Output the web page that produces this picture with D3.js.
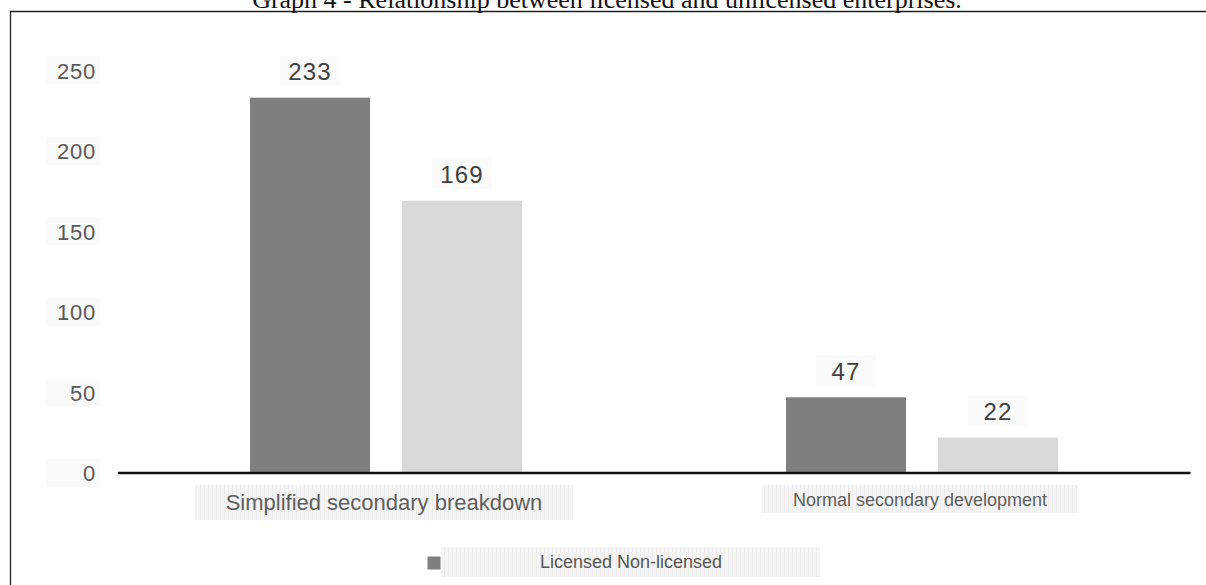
<!DOCTYPE html>
<html>
<head>
<meta charset="utf-8">
<script src="https://cdn.jsdelivr.net/npm/d3@7/dist/d3.min.js"></script>
<style>
  html, body { margin: 0; padding: 0; background: #fff; }
  svg { display: block; }
</style>
</head>
<body>
<svg id="chart" width="1206" height="585"></svg>
<script>
// Enterprise counts by development type
const categories = ["Simplified secondary breakdown", "Normal secondary development"];
const seriesNames = ["Licensed", "Non-licensed"];
const licensed = [233, 47];
const nonLicensed = [169, 22];
const yTicks = [0, 50, 100, 150, 200, 250];
const titleText = "Graph 4 - Relationship between licensed and unlicensed enterprises.";
const legendText = "Licensed Non-licensed";

const colors = { "Licensed": "#7f7f7f", "Non-licensed": "#d9d9d9" };
const sans = "'Liberation Sans', Arial, Helvetica, sans-serif";

const svg = d3.select("#chart");

// striped label background
const defs = svg.append("defs");
const pat = defs.append("pattern")
  .attr("id", "stripes").attr("patternUnits", "userSpaceOnUse")
  .attr("width", 4).attr("height", 4);
pat.append("rect").attr("width", 4).attr("height", 4).attr("fill", "#f5f5f5");
pat.append("rect").attr("width", 1).attr("height", 4).attr("fill", "#ededed");

// Title (Times) and outer frame
svg.append("text")
  .attr("x", 607).attr("y", 8)
  .attr("text-anchor", "middle")
  .attr("font-family", "'Liberation Serif', 'Times New Roman', serif")
  .attr("font-size", 26).attr("fill", "#111")
  .text(titleText);

svg.append("line").attr("x1", 10).attr("x2", 1206).attr("y1", 11.5).attr("y2", 11.5)
  .attr("stroke", "#222").attr("stroke-width", 1.3);
svg.append("line").attr("x1", 10.5).attr("x2", 10.5).attr("y1", 11).attr("y2", 585)
  .attr("stroke", "#222").attr("stroke-width", 1.3);

// Scales
const x0 = d3.scaleBand().domain(categories).range([118, 1190]).padding(0);
const x1 = d3.scaleBand().domain(seriesNames)
  .range([x0.bandwidth() / 2 - 136, x0.bandwidth() / 2 + 136])
  .paddingInner(32 / 152).paddingOuter(0);
const y = d3.scaleLinear().domain([0, 250]).range([473, 70.3]);

// Y tick labels with faint backing
const tickG = svg.append("g");
yTicks.forEach(t => {
  tickG.append("rect")
    .attr("x", 46).attr("y", y(t) - 14).attr("width", 54).attr("height", 28)
    .attr("fill", "#fafafa");
});
const yAxis = d3.axisLeft(y).tickValues(yTicks).tickSize(0).tickPadding(0);
const yAxisG = svg.append("g").attr("transform", "translate(96,0)").call(yAxis);
yAxisG.select(".domain").remove();
yAxisG.selectAll("text")
  .attr("font-family", sans).attr("font-size", 22)
  .attr("letter-spacing", 0.8)
  .attr("fill", "#595959").attr("dy", "0.36em");

// Bars
const rows = categories.map((c, i) => ({
  cat: c,
  vals: [{ s: "Licensed", v: licensed[i] }, { s: "Non-licensed", v: nonLicensed[i] }]
}));

const groups = svg.selectAll("g.grp").data(rows).join("g")
  .attr("class", "grp")
  .attr("transform", d => `translate(${x0(d.cat)},0)`);

groups.selectAll("rect.bar").data(d => d.vals).join("rect")
  .attr("class", "bar")
  .attr("x", d => x1(d.s)).attr("width", x1.bandwidth())
  .attr("y", d => y(d.v)).attr("height", d => y(0) - y(d.v))
  .attr("fill", d => colors[d.s]);

groups.selectAll("rect.vbg").data(d => d.vals).join("rect")
  .attr("class", "vbg")
  .attr("x", d => x1(d.s) + x1.bandwidth() / 2 - 30).attr("width", 60)
  .attr("y", d => y(d.v) - 42).attr("height", 30)
  .attr("fill", "#fbfbfb");

groups.selectAll("text.val").data(d => d.vals).join("text")
  .attr("class", "val")
  .attr("x", d => x1(d.s) + x1.bandwidth() / 2)
  .attr("y", d => y(d.v) - 17.5)
  .attr("text-anchor", "middle")
  .attr("font-family", sans).attr("font-size", 24)
  .attr("letter-spacing", 1.2)
  .attr("fill", "#404040")
  .text(d => d.v);

// Baseline
svg.append("line")
  .attr("x1", 118).attr("x2", 1190.5)
  .attr("y1", y(0)).attr("y2", y(0))
  .attr("stroke", "#111").attr("stroke-width", 2.5);

// Category labels on striped boxes
const catBoxes = [
  { w: 378, h: 35, fs: 22 },
  { w: 317, h: 28, fs: 18 }
];
categories.forEach((c, i) => {
  const cx = x0(c) + x0.bandwidth() / 2 - 2;
  const b = catBoxes[i];
  svg.append("rect")
    .attr("x", cx - b.w / 2).attr("y", 485).attr("width", b.w).attr("height", b.h)
    .attr("fill", "url(#stripes)");
  svg.append("text")
    .attr("x", cx).attr("y", i === 0 ? 510 : 506)
    .attr("text-anchor", "middle")
    .attr("font-family", sans).attr("font-size", b.fs)
    .attr("fill", "#5e5e5e")
    .text(c);
});

// Legend
svg.append("rect")
  .attr("x", 427.5).attr("y", 556.5).attr("width", 13).attr("height", 13)
  .attr("fill", colors["Licensed"]);
svg.append("rect")
  .attr("x", 441).attr("y", 547).attr("width", 379).attr("height", 30)
  .attr("fill", "url(#stripes)");
svg.append("text")
  .attr("x", 631).attr("y", 567.5)
  .attr("text-anchor", "middle")
  .attr("font-family", sans).attr("font-size", 18)
  .attr("fill", "#555")
  .text(legendText);
</script>
</body>
</html>
